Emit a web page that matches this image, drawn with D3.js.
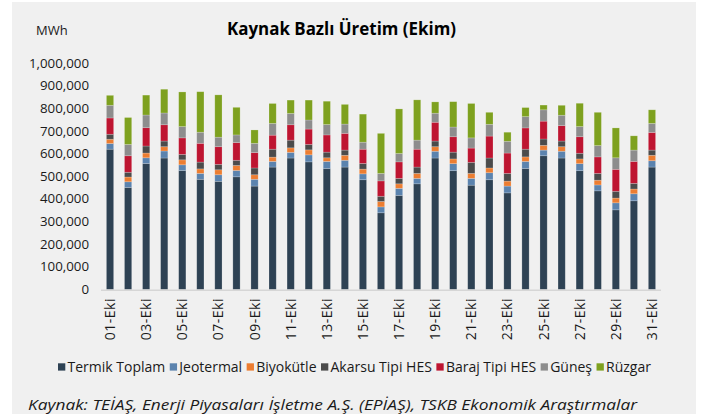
<!DOCTYPE html>
<html>
<head>
<meta charset="utf-8">
<script src="https://cdn.jsdelivr.net/npm/d3@7"></script>
<style>
  body { margin: 0; background: #fff; }
  svg { display: block; font-family: "Open Sans", "Noto Sans", sans-serif; }
</style>
</head>
<body>
<svg id="chart" width="711" height="414"></svg>
<script>
// daily generation by source, thousand MWh
var days = ["01-Eki","02-Eki","03-Eki","04-Eki","05-Eki","06-Eki","07-Eki","08-Eki","09-Eki","10-Eki",
  "11-Eki","12-Eki","13-Eki","14-Eki","15-Eki","16-Eki","17-Eki","18-Eki","19-Eki","20-Eki",
  "21-Eki","22-Eki","23-Eki","24-Eki","25-Eki","26-Eki","27-Eki","28-Eki","29-Eki","30-Eki","31-Eki"]
var termik    = [620,451,557,581,526,487,478,498,457,541,581,564,535,541,485,339,416,467,581,525,461,485,427,535,591,581,525,436,352,392,541]
var jeotermal = [25,25,25,31,25,26,29,28,30,25,25,31,31,30,26,26,31,24,30,31,30,31,30,31,25,30,31,26,31,31,28]
var biyokutle = [19,21,21,19,22,20,22,22,20,19,20,22,16,22,21,24,20,22,20,21,22,21,22,20,21,20,21,21,21,21,24]
var akarsu    = [22,21,31,25,24,30,24,23,30,35,34,24,25,23,25,23,24,28,25,30,49,44,34,34,28,25,25,30,30,25,23]
var baraj     = [72,73,81,72,73,83,78,78,68,62,68,68,76,74,63,68,73,79,83,68,63,97,90,94,79,68,73,73,97,97,78]
var gunes     = [56,50,56,52,50,49,42,34,41,52,50,40,46,41,31,33,37,40,40,43,45,52,52,50,50,46,45,50,51,50,40]
var ruzgar    = [44,119,88,105,153,179,187,122,59,88,59,88,103,87,124,177,197,178,50,112,152,53,40,40,21,44,103,147,132,63,60]

var seriesNames = ["Termik Toplam","Jeotermal","Biyokütle","Akarsu Tipi HES","Baraj Tipi HES","Güneş","Rüzgar"]
var seriesValues = [termik, jeotermal, biyokutle, akarsu, baraj, gunes, ruzgar]
var colors = ["#2e4254","#5b83ae","#ec7d31","#4b4b4b","#be1531","#8d8d8d","#7ea11f"]
var yTicks = [0,100000,200000,300000,400000,500000,600000,700000,800000,900000,1000000]

var svg = d3.select("#chart")

// grey panel
svg.append("rect")
  .attr("x", 12).attr("y", 2)
  .attr("width", 684).attr("height", 420)
  .attr("fill", "#f0f0f0")

// build rows for d3.stack
var rows = days.map(function (d, i) {
  var r = { day: d }
  seriesNames.forEach(function (s, j) { r[s] = seriesValues[j][i] * 1000 })
  return r
})
var stacked = d3.stack().keys(seriesNames)(rows)

var x = d3.scaleBand()
  .domain(days)
  .range([101, 661])
  .paddingInner(0.6)
  .paddingOuter(0.3)

var y = d3.scaleLinear()
  .domain([0, 1000000])
  .range([289.5, 63.2])

// y axis labels only
var yAxis = svg.append("g")
  .attr("transform", "translate(89,0)")
  .call(d3.axisLeft(y).tickValues(yTicks).tickFormat(d3.format(",")).tickSize(0).tickPadding(0))
yAxis.select(".domain").remove()
yAxis.selectAll("text")
  .attr("dy", "0.3em")
  .style("font-family", "'Open Sans', sans-serif")
  .style("font-size", "13.3px")
  .attr("fill", "#1a1a1a")

// bars
svg.append("g")
  .selectAll("g")
  .data(stacked)
  .enter()
  .append("g")
  .attr("fill", function (d, i) { return colors[i] })
  .selectAll("rect")
  .data(function (d) { return d })
  .enter()
  .append("rect")
  .attr("x", function (d) { return x(d.data.day) })
  .attr("y", function (d) { return y(d[1]) })
  .attr("height", function (d) { return y(d[0]) - y(d[1]) })
  .attr("width", x.bandwidth())
  .attr("stroke", "rgba(255,255,255,0.28)")
  .attr("stroke-width", 0.7)

// x axis line
svg.append("line")
  .attr("x1", 101).attr("x2", 661)
  .attr("y1", 290.3).attr("y2", 290.3)
  .attr("stroke", "#d6d6d6")
  .attr("stroke-width", 1.6)

// x labels, every second day
svg.append("g")
  .selectAll("text")
  .data(days.filter(function (d, i) { return i % 2 === 0 }))
  .enter()
  .append("text")
  .attr("transform", function (d) { return "translate(" + (x(d) + x.bandwidth() / 2) + ",298)rotate(-90)" })
  .attr("text-anchor", "end")
  .attr("dy", "0.36em")
  .style("font-size", "14px")
  .style("letter-spacing", "0.5px")
  .attr("fill", "#1a1a1a")
  .text(function (d) { return d })

// title and unit
svg.append("text")
  .attr("x", 341.5).attr("y", 35)
  .attr("text-anchor", "middle")
  .style("font-size", "17px")
  .style("font-weight", "bold")
  .attr("textLength", 229)
  .attr("lengthAdjust", "spacingAndGlyphs")
  .attr("fill", "#000")
  .text("Kaynak Bazlı Üretim (Ekim)")

svg.append("text")
  .attr("x", 36).attr("y", 35)
  .style("font-size", "13px")
  .attr("fill", "#1a1a1a")
  .text("MWh")

// legend
var legend = svg.append("g").attr("transform", "translate(58,367)")
var lx = 0
seriesNames.forEach(function (s, i) {
  legend.append("rect")
    .attr("x", lx).attr("y", -3.7)
    .attr("width", 7.3).attr("height", 7.3)
    .attr("fill", colors[i])
  var t = legend.append("text")
    .attr("x", lx + 9.5).attr("y", 0)
    .attr("dy", "0.36em")
    .style("font-size", "14px")
    .attr("fill", "#1a1a1a")
    .text(s)
  lx += 9.5 + t.node().getComputedTextLength() + 4.5
})

// source note
svg.append("text")
  .attr("x", 28).attr("y", 410)
  .style("font-size", "14.5px")
  .style("font-style", "italic")
  .attr("textLength", 609)
  .attr("lengthAdjust", "spacingAndGlyphs")
  .attr("fill", "#1a1a1a")
  .text("Kaynak: TEİAŞ, Enerji Piyasaları İşletme A.Ş. (EPİAŞ), TSKB Ekonomik Araştırmalar")
</script>
</body>
</html>
